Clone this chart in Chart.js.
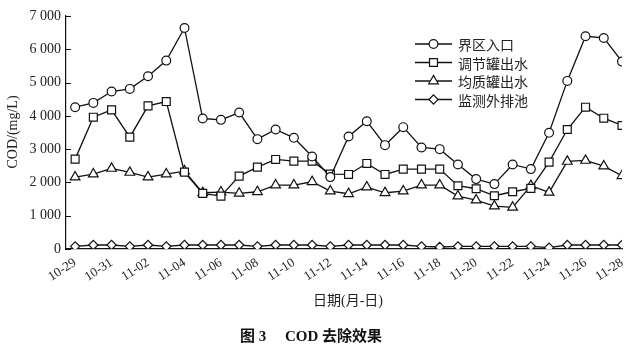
<!DOCTYPE html>
<html>
<head>
<meta charset="utf-8">
<script src="https://cdn.jsdelivr.net/npm/chart.js@4.4.1/dist/chart.umd.min.js"></script>
<style>
  html,body{margin:0;padding:0;background:#fff;}
  #wrap{width:640px;height:355px;position:relative;}
</style>
</head>
<body>
<div id="wrap"><canvas id="c" width="640" height="355"></canvas></div>
<script>
const dates = ["10-29","10-30","10-31","11-01","11-02","11-03","11-04","11-05","11-06","11-07","11-08","11-09","11-10","11-11","11-12","11-13","11-14","11-15","11-16","11-17","11-18","11-19","11-20","11-21","11-22","11-23","11-24","11-25","11-26","11-27","11-28"];
const seriesNames = ["界区入口","调节罐出水","均质罐出水","监测外排池"];
const inlet = [4260,4390,4730,4810,5190,5660,6640,3920,3880,4100,3300,3590,3340,2780,2160,3380,3840,3120,3660,3050,3000,2540,2100,1950,2540,2400,3490,5050,6390,6340,5630];
const adjustTank = [2700,3960,4180,3360,4300,4430,2310,1670,1590,2190,2460,2690,2640,2640,2250,2240,2570,2240,2400,2400,2400,1900,1810,1600,1720,1820,2610,3590,4260,3930,3710];
const homoTank = [2160,2250,2420,2300,2160,2250,2340,1690,1710,1670,1720,1920,1920,2020,1740,1660,1860,1690,1740,1920,1920,1590,1470,1290,1250,1900,1700,2630,2660,2490,2200];
const outfall = [80,120,120,80,120,80,120,120,120,120,80,120,120,120,80,120,120,120,120,80,60,80,80,80,80,80,40,120,120,120,120];
const yTicks = [0,1000,2000,3000,4000,5000,6000,7000];
const yTickLabels = ["0","1 000","2 000","3 000","4 000","5 000","6 000","7 000"];

const serif = "'Liberation Serif','Times New Roman','Noto Sans CJK SC',serif";
const ink = '#111';

function ds(label, vals, style, r){
  return {
    label, data: vals.map((v,i)=>({x:i,y:v})),
    borderColor: ink, borderWidth: 1.3,
    pointStyle: style, pointRadius: r, pointHoverRadius: r,
    pointBackgroundColor: '#fff', pointBorderColor: ink, pointBorderWidth: 1.2,
    tension: 0, fill: false
  };
}

const styles = [['circle',4.4],['rect',5.6],['triangle',5.6],['rectRot',4.6]];
const datasets = [
  ds(seriesNames[0], inlet, ...styles[0]),
  ds(seriesNames[1], adjustTank, ...styles[1]),
  ds(seriesNames[2], homoTank, ...styles[2]),
  ds(seriesNames[3], outfall, ...styles[3])
];

const decor = {
  id:'decor',
  afterDraw(chart){
    const ctx = chart.ctx;
    const y = chart.scales.y, x = chart.scales.x;
    const area = chart.chartArea;
    ctx.save();
    // inward y ticks
    ctx.strokeStyle = ink; ctx.lineWidth = 1;
    yTicks.forEach(v=>{
      const py = Math.round(y.getPixelForValue(v))+0.5;
      ctx.beginPath(); ctx.moveTo(area.left, py); ctx.lineTo(area.left+5, py); ctx.stroke();
    });
    // legend
    const lx0 = 415, lx1 = 452, mx = 433.5, tx = 458;
    const rows = [44, 62.5, 81, 99.5];
    chart.data.datasets.forEach((d,i)=>{
      const ry = rows[i];
      ctx.strokeStyle = ink; ctx.lineWidth = 1.3;
      ctx.beginPath(); ctx.moveTo(lx0, ry); ctx.lineTo(lx1, ry); ctx.stroke();
      ctx.fillStyle = '#fff'; ctx.strokeStyle = ink; ctx.lineWidth = 1.2;
      Chart.helpers.drawPoint(ctx, {pointStyle:d.pointStyle, radius:d.pointRadius, borderWidth:1.2, rotation:0}, mx, ry);
      ctx.fillStyle = '#222';
      ctx.font = "14px 'Noto Sans CJK SC'";
      ctx.textAlign = 'left'; ctx.textBaseline = 'middle';
      ctx.fillText(d.label, tx, ry+1);
    });
    // axis titles
    ctx.fillStyle = '#222';
    ctx.font = "14px " + serif;
    ctx.textAlign = 'center'; ctx.textBaseline = 'middle';
    ctx.fillText('日期(月-日)', 348, 301);
    ctx.save();
    ctx.translate(13, 132); ctx.rotate(-Math.PI/2);
    ctx.fillText('COD/(mg/L)', 0, 0);
    ctx.restore();
    // caption
    ctx.font = "bold 15px " + serif;
    ctx.fillStyle = '#111';
    ctx.textAlign = 'left';
    ctx.fillText('图 3', 240, 337);
    ctx.fillText('COD 去除效果', 285, 337);
    ctx.restore();
  }
};

new Chart(document.getElementById('c'), {
  type:'line',
  data:{ datasets },
  plugins:[decor],
  options:{
    responsive:false, animation:false,
    devicePixelRatio:1,
    layout:{ padding:{ top:16, right:18, left:0, bottom:0 } },
    plugins:{ legend:{display:false}, tooltip:{enabled:false} },
    scales:{
      x:{
        type:'linear', min:-0.5, max:30,
        afterBuildTicks(s){ s.ticks = dates.map((d,i)=>i).filter(i=>i%2===0).map(v=>({value:v})); },
        afterFit(s){ s.height = 106; },
        grid:{ display:false, drawTicks:false },
        border:{ display:true, color:ink, width:1.2 },
        ticks:{
          autoSkip:false, minRotation:33, maxRotation:33, padding:6,
          color:'#222', font:{ family:serif, size:13 },
          callback:(v)=> dates[v] ?? ''
        }
      },
      y:{
        min:0, max:7000,
        afterBuildTicks(s){ s.ticks = yTicks.map(v=>({value:v})); },
        afterFit(s){ s.width = 66; },
        grid:{ display:false, drawTicks:false },
        border:{ display:true, color:ink, width:1.2 },
        ticks:{
          padding:5, color:'#222', font:{ family:serif, size:14 },
          callback:(v)=>{ const k = yTicks.indexOf(v); return k>=0 ? yTickLabels[k] : ''; }
        }
      }
    }
  }
});
</script>
</body>
</html>
